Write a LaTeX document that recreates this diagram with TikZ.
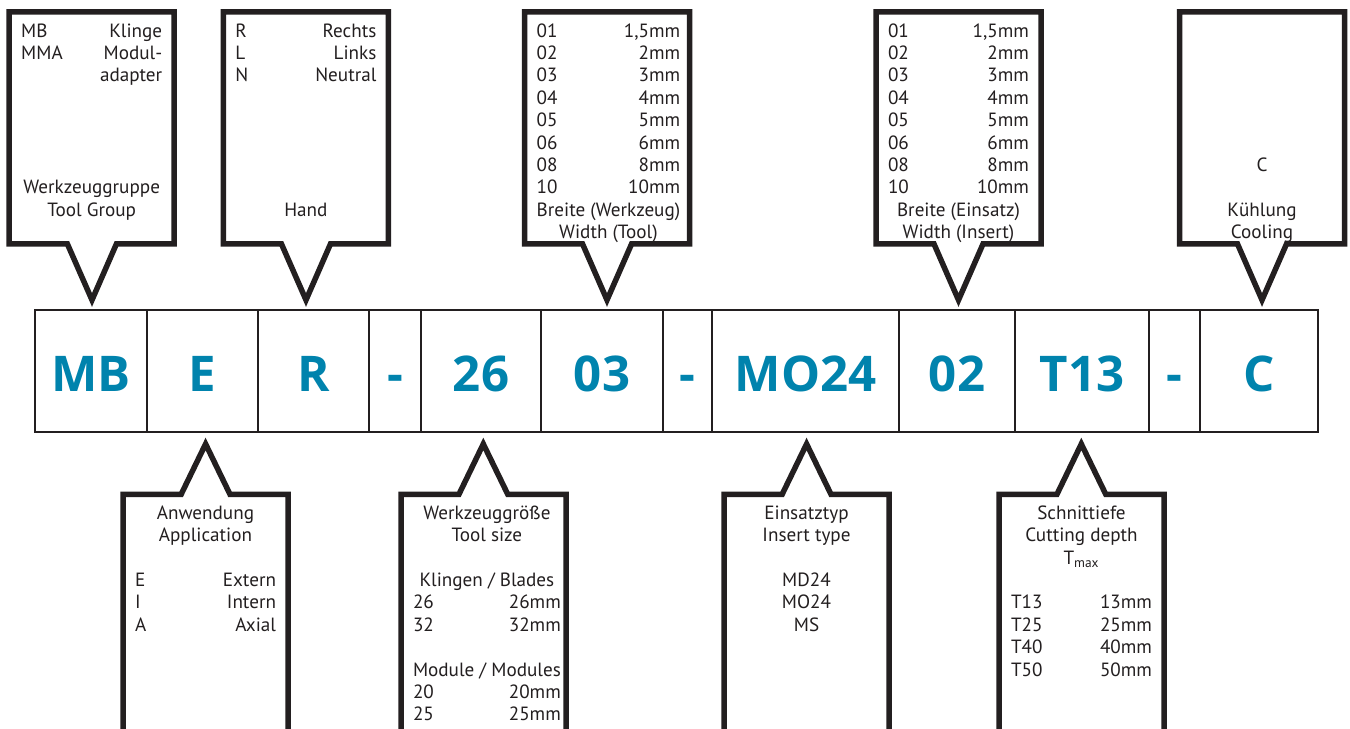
\documentclass[tikz,border=0pt]{standalone}
\usepackage{fontspec}
\setmainfont{PT Sans}
\newfontfamily\codefont{Open Sans}
\usepackage{tikz}
\usetikzlibrary{shapes.callouts,positioning}

\newlength{\upx}\setlength{\upx}{0.2mm}
\definecolor{codeblue}{RGB}{0,131,173}
\definecolor{ink}{RGB}{35,31,32}

% two-column list inside a callout
\newcommand{\codelist}[1]{\begin{tabular*}{141\upx}{@{}l@{\extracolsep{\fill}}r@{}}#1\end{tabular*}}
\newcommand{\mcol}[1]{\multicolumn{2}{@{}c@{}}{#1}}

\begin{document}
\begin{tikzpicture}[x=0.2mm, y=-0.2mm,
    every node/.style={font=\fontsize{10.9}{12.75}\selectfont, inner sep=0pt, text=ink},
    cell/.style={draw=ink, line width=2.7\upx, outer sep=0pt, minimum height=122\upx,
                 text height=23.3pt, text depth=0pt,
                 font=\codefont\fontsize{28}{30}\selectfont\bfseries, text=codeblue},
    ctop/.style={rectangle callout, draw=ink, line width=5.5\upx, fill=white,
                 minimum width=165\upx, minimum height=232\upx,
                 callout pointer width=49\upx},
    cbot/.style={ctop, minimum height=300\upx},
    txt/.style={anchor=north},
  ]
  \path[use as bounding box] (0,0) rectangle (1350,729);
  \clip (0,0) rectangle (1350,729);

  % code row
  \node[cell, minimum width=112\upx] (mb) at (91,371) {MB};
  \node[cell, minimum width=111\upx, right=0pt of mb] (app) {E};
  \node[cell, minimum width=111\upx, right=0pt of app] (hand) {R};
  \node[cell, minimum width=52\upx, right=0pt of hand] (sep1) {-};
  \node[cell, minimum width=120\upx, right=0pt of sep1] (size) {26};
  \node[cell, minimum width=122\upx, right=0pt of size] (wtool) {03};
  \node[cell, minimum width=49\upx, right=0pt of wtool] (sep2) {-};
  \node[cell, minimum width=187\upx, right=0pt of sep2] (ins) {MO24};
  \node[cell, minimum width=116\upx, right=0pt of ins] (wins) {02};
  \node[cell, minimum width=134\upx, right=0pt of wins] (depth) {T13};
  \node[cell, minimum width=51\upx, right=0pt of depth] (sep3) {-};
  \node[cell, minimum width=118\upx, right=0pt of sep3] (cool) {C};

  % callouts above
  \node[ctop, callout absolute pointer={(92,300)}] (grp-c) at (91.7,128) {};
  \node[ctop, callout absolute pointer={(306,300)}] (hand-c) at (305.9,128) {};
  \node[ctop, callout absolute pointer={(607,300)}] (wtool-c) at (607.2,128) {};
  \node[ctop, callout absolute pointer={(958.5,300)}] (wins-c) at (958.5,128) {};
  \node[ctop, callout absolute pointer={(1262,300)}] (cool-c) at (1262,128) {};

  \node[txt] (grp-t) at (91.7,21) {\codelist{MB & Klinge\\ MMA & Modul-\\ & adapter\\ \\ \\ \\ \\
      \mcol{Werkzeuggruppe}\\ \mcol{Tool Group}}};
  \node[txt] (hand-t) at (305.9,21) {\codelist{R & Rechts\\ L & Links\\ N & Neutral\\ \\ \\ \\ \\ \\
      \mcol{Hand}}};
  \node[txt] (wtool-t) at (607.2,21) {\codelist{01 & 1,5mm\\ 02 & 2mm\\ 03 & 3mm\\ 04 & 4mm\\
      05 & 5mm\\ 06 & 6mm\\ 08 & 8mm\\ 10 & 10mm\\
      \mcol{Breite (Werkzeug)}\\ \mcol{Width (Tool)}}};
  \node[txt] (wins-t) at (958.5,21) {\codelist{01 & 1,5mm\\ 02 & 2mm\\ 03 & 3mm\\ 04 & 4mm\\
      05 & 5mm\\ 06 & 6mm\\ 08 & 8mm\\ 10 & 10mm\\
      \mcol{Breite (Einsatz)}\\ \mcol{Width (Insert)}}};
  \node[txt] (cool-t) at (1262,21) {\codelist{\\ \\ \\ \\ \\ \\ \mcol{C}\\ \\
      \mcol{Kühlung}\\ \mcol{Cooling}}};

  % callouts below
  \node[cbot, callout absolute pointer={(205.6,444)}] (app-c) at (205.5,644.5) {};
  \node[cbot, callout absolute pointer={(483.3,444)}] (size-c) at (483.5,644.5) {};
  \node[cbot, callout absolute pointer={(806.6,444)}] (ins-c) at (806.5,644.5) {};
  \node[cbot, callout absolute pointer={(1081.3,444)}] (depth-c) at (1081.5,644.5) {};

  \node[txt] (app-t) at (205.5,503.3) {\codelist{\mcol{Anwendung}\\ \mcol{Application}\\ \\
      E & Extern\\ I & Intern\\ A & Axial}};
  \node[txt] (size-t) at (483.5,503.3) {\codelist{\mcol{Werkzeuggröße}\\ \mcol{Tool size}\\ \\
      \mcol{Klingen / Blades}\\ 26 & 26mm\\ 32 & 32mm\\ \\
      \mcol{Module / Modules}\\ 20 & 20mm\\ 25 & 25mm}};
  \node[txt] (ins-t) at (806.5,503.3) {\codelist{\mcol{Einsatztyp}\\ \mcol{Insert type}\\ \\
      \mcol{MD24}\\ \mcol{MO24}\\ \mcol{MS}}};
  \node[txt] (depth-t) at (1081.5,503.3) {\codelist{\mcol{Schnittiefe}\\ \mcol{Cutting depth}\\
      \mcol{T\textsubscript{max}}\\ \\
      T13 & 13mm\\ T25 & 25mm\\ T40 & 40mm\\ T50 & 50mm}};
\end{tikzpicture}
\end{document}
